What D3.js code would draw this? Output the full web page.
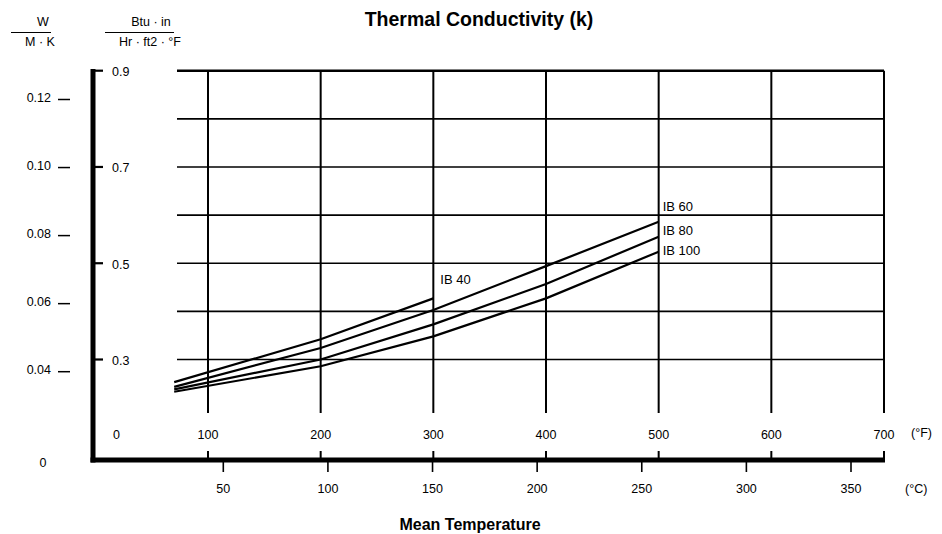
<!DOCTYPE html>
<html><head><meta charset="utf-8">
<script src="https://cdn.jsdelivr.net/npm/d3@7"></script>
<style>
body{margin:0;background:#fff}
text{font-family:"Liberation Sans",Arial,Helvetica,sans-serif;fill:#000}
</style>
</head><body>
<svg id="c" width="942" height="534"></svg>
<script>
// ---- data ----
const tempF = [70, 200, 300, 400, 500];
const ib40  = [0.253, 0.342, 0.427];
const ib60  = [0.243, 0.324, 0.403, 0.494, 0.586];
const ib80  = [0.238, 0.300, 0.373, 0.457, 0.555];
const ib100 = [0.233, 0.286, 0.348, 0.427, 0.524];
const seriesNames = ["IB 40", "IB 60", "IB 80", "IB 100"];
const labelValues = [0.467, 0.619, 0.569, 0.527];   // Btu level of each series label
const labelTemps  = [300, 500, 500, 500];
const fTicks   = [100, 200, 300, 400, 500, 600, 700];
const cTicks   = [50, 100, 150, 200, 250, 300, 350];
const btuTicks = [0.3, 0.5, 0.7, 0.9];
const btuGrid  = [0.3, 0.4, 0.5, 0.6, 0.7, 0.8, 0.9];
const kTicks   = [0.04, 0.06, 0.08, 0.10, 0.12];

const series = [ib40, ib60, ib80, ib100];

// ---- scales ----
const x  = d3.scaleLinear().domain([100, 700]).range([208, 884]);
const xC = d3.scaleLinear().domain([50, 350]).range([223.3, 851]);
const y  = d3.scaleLinear().domain([0.3, 0.9]).range([359.5, 70.7]);
const yK = d3.scaleLinear().domain([0.04, 0.12]).range([371.7, 99.5]);

const svg = d3.select("#c");
const axisY = 460, axisX = 93, gridLeft = 177, gridBottom = 413;

// grid horizontal
svg.append("g").selectAll("line").data(btuGrid).join("line")
  .attr("x1", gridLeft).attr("x2", x(700))
  .attr("y1", d => y(d)).attr("y2", d => y(d))
  .attr("stroke", "#000")
  .attr("stroke-width", d => d === 0.9 ? 2.6 : 1.6);

// grid vertical
svg.append("g").selectAll("line").data(fTicks).join("line")
  .attr("x1", d => x(d)).attr("x2", d => x(d))
  .attr("y1", y(0.9)).attr("y2", gridBottom)
  .attr("stroke", "#000").attr("stroke-width", 2);

// curves
const line = d3.line().x((d, i) => x(tempF[i])).y(d => y(d));
svg.append("g").selectAll("path").data(series).join("path")
  .attr("d", d => line(d))
  .attr("fill", "none").attr("stroke", "#000").attr("stroke-width", 2.2);

// series labels
svg.append("g").selectAll("text").data(seriesNames).join("text")
  .attr("x", (d, i) => x(labelTemps[i]) + (i === 0 ? 7 : 4))
  .attr("y", (d, i) => y(labelValues[i]))
  .attr("dy", "0.35em")
  .attr("font-size", 13)
  .text(d => d);

// thick axis frame
svg.append("line").attr("x1", axisX).attr("x2", axisX).attr("y1", 69).attr("y2", axisY + 2.5)
  .attr("stroke", "#000").attr("stroke-width", 5);
svg.append("line").attr("x1", axisX - 2.5).attr("x2", 885).attr("y1", axisY).attr("y2", axisY)
  .attr("stroke", "#000").attr("stroke-width", 5);

// Btu ticks and labels
svg.append("g").selectAll("line").data(btuTicks).join("line")
  .attr("x1", axisX).attr("x2", 103)
  .attr("y1", d => y(d)).attr("y2", d => y(d))
  .attr("stroke", "#000").attr("stroke-width", 2.2);
svg.append("g").selectAll("text").data(btuTicks).join("text")
  .attr("x", 112).attr("y", d => y(d) + 1).attr("dy", "0.35em")
  .attr("font-size", 12.5).text(d => d3.format(".1f")(d));
svg.append("text").attr("x", 113).attr("y", 435).attr("dy", "0.35em")
  .attr("font-size", 12.5).text("0");

// K (W/M·K) ticks and labels
svg.append("g").selectAll("line").data(kTicks).join("line")
  .attr("x1", 58).attr("x2", 70)
  .attr("y1", d => yK(d)).attr("y2", d => yK(d))
  .attr("stroke", "#000").attr("stroke-width", 1.5);
svg.append("g").selectAll("text").data(kTicks).join("text")
  .attr("x", 51).attr("y", d => yK(d) - 2).attr("dy", "0.35em")
  .attr("text-anchor", "end").attr("font-size", 12.5)
  .text(d => d3.format(".2f")(d));
svg.append("text").attr("x", 43).attr("y", 463).attr("dy", "0.35em")
  .attr("text-anchor", "middle").attr("font-size", 12.5).text("0");

// °F ticks (up) & labels
svg.append("g").selectAll("line").data(fTicks).join("line")
  .attr("x1", d => x(d)).attr("x2", d => x(d))
  .attr("y1", axisY).attr("y2", axisY - 9)
  .attr("stroke", "#000").attr("stroke-width", 2);
svg.append("g").selectAll("text").data(fTicks).join("text")
  .attr("x", d => x(d)).attr("y", 435).attr("dy", "0.35em")
  .attr("text-anchor", "middle").attr("font-size", 12.5).text(d => d);
svg.append("text").attr("x", 911).attr("y", 433).attr("dy", "0.35em")
  .attr("font-size", 12.5).text("(°F)");

// °C ticks (down) & labels
svg.append("g").selectAll("line").data(cTicks).join("line")
  .attr("x1", d => xC(d)).attr("x2", d => xC(d))
  .attr("y1", axisY).attr("y2", axisY + 12)
  .attr("stroke", "#000").attr("stroke-width", 1.6);
svg.append("g").selectAll("text").data(cTicks).join("text")
  .attr("x", d => xC(d)).attr("y", 489).attr("dy", "0.35em")
  .attr("text-anchor", "middle").attr("font-size", 12.5).text(d => d);
svg.append("text").attr("x", 905).attr("y", 489).attr("dy", "0.35em")
  .attr("font-size", 12.5).text("(°C)");

// unit headers
function frac(lx1, lx2, top, bottom, topX, botX) {
  svg.append("text").attr("x", topX).attr("y", 22).attr("dy", "0.35em")
    .attr("text-anchor", "middle").attr("font-size", 12.5).text(top);
  svg.append("line").attr("x1", lx1).attr("x2", lx2).attr("y1", 32.5).attr("y2", 32.5)
    .attr("stroke", "#000").attr("stroke-width", 1.2);
  svg.append("text").attr("x", botX).attr("y", 42).attr("dy", "0.35em")
    .attr("text-anchor", "middle").attr("font-size", 12.5).text(bottom);
}
frac(11, 51, "W", "M · K", 43, 40);
frac(105, 174, "Btu · in", "Hr · ft2 · °F", 151, 150);

// titles
svg.append("text").attr("x", 479).attr("y", 26)
  .attr("text-anchor", "middle").attr("font-size", 19.5).attr("font-weight", "bold")
  .text("Thermal Conductivity (k)");
svg.append("text").attr("x", 470).attr("y", 530)
  .attr("text-anchor", "middle").attr("font-size", 16).attr("font-weight", "bold")
  .text("Mean Temperature");
</script>
</body></html>
